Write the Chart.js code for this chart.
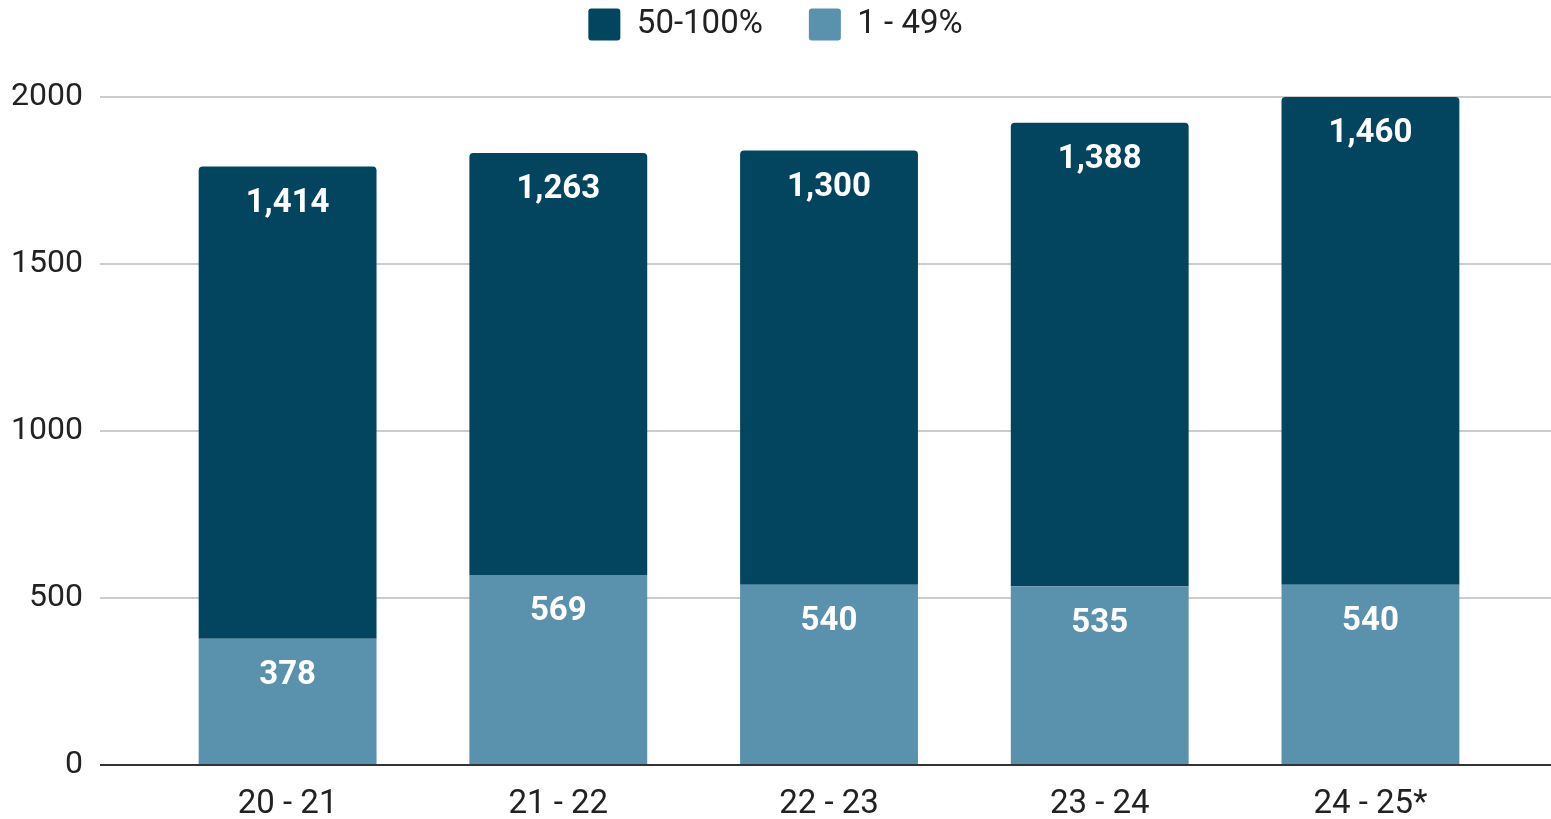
<!DOCTYPE html>
<html>
<head>
<meta charset="utf-8">
<script src="https://cdn.jsdelivr.net/npm/chart.js@4.4.1/dist/chart.umd.min.js"></script>
<style>
  html, body { margin: 0; padding: 0; background: #fff; }
  #wrap { width: 1551px; height: 819px; }
</style>
</head>
<body>
<div id="wrap"><canvas id="shareChart"></canvas></div>
<script>
// school years
const years = ['20 - 21', '21 - 22', '22 - 23', '23 - 24', '24 - 25*'];
const high = [1414, 1263, 1300, 1388, 1460];  // 50-100%
const low = [378, 569, 540, 535, 540];        // 1 - 49%
const yTicks = [0, 500, 1000, 1500, 2000];

const darkBlue = '#03455F';
const lightBlue = '#5A91AD';

// writes the value inside each bar, near its top
const barLabels = {
    id: 'barLabels',
    afterDatasetsDraw(chart) {
        const ctx = chart.ctx;
        ctx.save();
        ctx.fillStyle = '#ffffff';
        ctx.font = 'bold 33px Roboto';
        ctx.textAlign = 'center';
        ctx.textBaseline = 'middle';
        chart.data.datasets.forEach(function(ds, di) {
            chart.getDatasetMeta(di).data.forEach(function(bar, i) {
                ctx.fillText(ds.data[i].y.toLocaleString('en-US'), bar.x, bar.y + 37);
            });
        });
        ctx.restore();
    }
};

// fixed legend block height so the plot starts lower
const legendGap = {
    id: 'legendGap',
    beforeInit(chart) {
        const fit = chart.legend.fit;
        chart.legend.fit = function() {
            fit.bind(chart.legend)();
            this.height = 135;
        };
    }
};

const ctx = document.getElementById('shareChart').getContext('2d');
new Chart(ctx, {
    type: 'bar',
    data: {
        datasets: [
            {
                label: '1 - 49%',
                data: years.map((y, i) => ({ x: i, y: low[i] })),
                backgroundColor: lightBlue
            },
            {
                label: '50-100%',
                data: years.map((y, i) => ({ x: i, y: high[i] })),
                backgroundColor: darkBlue,
                borderRadius: { topLeft: 4, topRight: 4, bottomLeft: 0, bottomRight: 0 },
                borderSkipped: false
            }
        ]
    },
    options: {
        responsive: true,
        maintainAspectRatio: false,
        animation: false,
        categoryPercentage: 1,
        barPercentage: 0.657,
        layout: { padding: { top: -38, right: 0, bottom: 0, left: 0 } },
        scales: {
            x: {
                type: 'linear',
                stacked: true,
                offset: false,
                min: -0.693,
                max: 4.667,
                afterFit: function(scale) { scale.height = 54; },
                grid: { display: false, drawTicks: false },
                border: { display: false },
                ticks: {
                    stepSize: 1,
                    includeBounds: false,
                    autoSkip: false,
                    maxRotation: 0,
                    padding: 20,
                    color: '#222',
                    font: { family: 'Roboto', size: 33 },
                    callback: function(v) {
                        return Number.isInteger(v) && years[v] !== undefined ? years[v] : '';
                    }
                }
            },
            y: {
                stacked: true,
                min: 0,
                max: 2000,
                afterBuildTicks: function(scale) {
                    scale.ticks = yTicks.map(v => ({ value: v }));
                },
                afterFit: function(scale) { scale.width = 100; },
                grid: {
                    drawTicks: false,
                    lineWidth: 2,
                    color: c => c.tick && c.tick.value === 0 ? '#333333' : '#cccccc'
                },
                border: { display: false },
                ticks: {
                    padding: 17,
                    color: '#222',
                    font: { family: 'Roboto', size: 32 },
                    callback: v => String(v)
                }
            }
        },
        plugins: {
            legend: {
                position: 'top',
                reverse: true,
                labels: {
                    boxWidth: 32,
                    boxHeight: 32,
                    useBorderRadius: true,
                    borderRadius: 3,
                    padding: 46,
                    color: '#222',
                    font: { family: 'Roboto', size: 33 }
                }
            },
            tooltip: { enabled: false }
        }
    },
    plugins: [barLabels, legendGap]
});
</script>
</body>
</html>
